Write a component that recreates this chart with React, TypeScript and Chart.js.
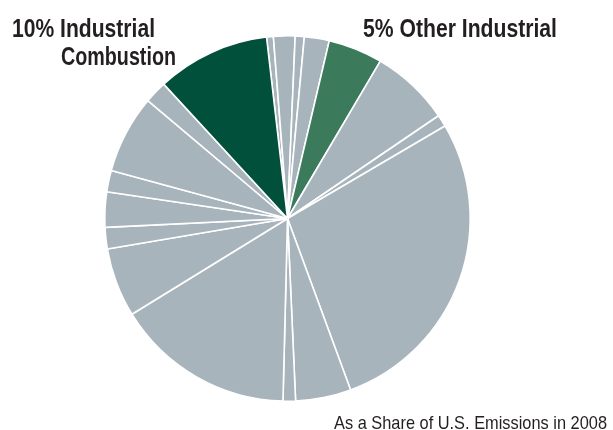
import React, { useEffect, useRef } from "react";
import { Chart, registerables } from "chart.js";

Chart.register(...registerables);

// Emission sources, clockwise from just right of "Industrial Combustion"
const categories = [
  "Source A", "Source B", "Source C", "Source D",
  "Other Industrial",
  "Source E", "Source F", "Source G", "Source H", "Source I",
  "Source J", "Source K", "Source L", "Source M", "Source N",
  "Source O", "Source P",
  "Industrial Combustion",
];
const shares = [
  0.6, 1.9, 0.8, 2.2,
  4.8,
  7.0, 1.05, 27.8, 4.9, 1.1,
  15.8, 6.1, 1.9, 3.1, 1.9,
  6.9, 2.0,
  10.0,
];
const GRAY = "#a8b4bc";
const DARK_GREEN = "#00503b";
const MID_GREEN = "#3b7b5b";
const sliceColors = categories.map((c) =>
  c === "Industrial Combustion" ? DARK_GREEN : c === "Other Industrial" ? MID_GREEN : GRAY
);
const labelLeft = ["10% Industrial", "Combustion"];
const labelRight = "5% Other Industrial";
const footer = "As a Share of U.S. Emissions in 2008";

const FAMILY = '"Liberation Sans", Arial, sans-serif';

function fitScale(text: string, font: string, target: number): number {
  const c = document.createElement("canvas");
  const ctx = c.getContext("2d");
  if (!ctx) return 1;
  ctx.font = font;
  const w = ctx.measureText(text).width;
  return w > 0 ? target / w : 1;
}

function Label(props: {
  text: string;
  left: number;
  top: number;
  size: number;
  bold?: boolean;
  width: number;
}) {
  const weight = props.bold ? 700 : 400;
  const s = fitScale(props.text, `${weight} ${props.size}px ${FAMILY}`, props.width);
  return (
    <div
      style={{
        position: "absolute",
        left: props.left,
        top: props.top,
        fontFamily: FAMILY,
        fontWeight: weight,
        fontSize: props.size,
        lineHeight: `${props.size}px`,
        color: "#231f20",
        whiteSpace: "nowrap",
        transform: `scaleX(${s})`,
        transformOrigin: "0 0",
      }}
    >
      {props.text}
    </div>
  );
}

export default function App() {
  const ref = useRef<HTMLCanvasElement | null>(null);
  useEffect(() => {
    if (!ref.current) return;
    const chart = new Chart(ref.current, {
      type: "pie",
      data: {
        labels: categories,
        datasets: [
          {
            data: shares,
            backgroundColor: sliceColors,
            borderColor: "#ffffff",
            borderWidth: 1.6,
          },
        ],
      },
      options: {
        animation: false,
        responsive: false,
        rotation: -6.6,
        layout: { padding: { left: 104, right: 142, top: 35, bottom: 28 } },
        plugins: { legend: { display: false }, tooltip: { enabled: false } },
        events: [],
      },
    });
    return () => chart.destroy();
  }, []);

  return (
    <div style={{ position: "fixed", left: 0, top: 0, width: 613, height: 430, background: "#fff", overflow: "hidden" }}>
      <canvas ref={ref} width={613} height={430} style={{ position: "absolute", left: 0, top: 0 }} />
      <Label text={labelLeft[0]} left={12} top={16} size={25} bold width={143} />
      <Label text={labelLeft[1]} left={61} top={44} size={25} bold width={115} />
      <Label text={labelRight} left={363} top={16} size={25} bold width={194} />
      <Label text={footer} left={334} top={413} size={19} width={273} />
    </div>
  );
}
